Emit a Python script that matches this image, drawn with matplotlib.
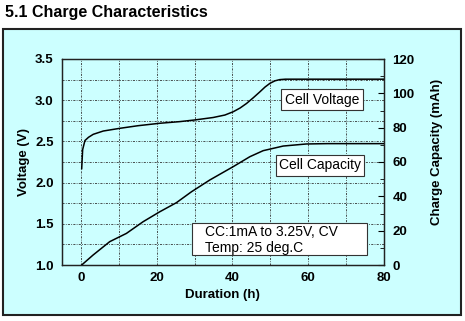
import matplotlib
matplotlib.use("Agg")
import matplotlib.pyplot as plt
from matplotlib.patches import Rectangle
from matplotlib.ticker import MultipleLocator

plt.rcParams['font.family'] = ['Liberation Sans', 'DejaVu Sans']

# cell voltage curve (hours, volts)
v_hours = [0.2, 0.45, 1.05, 2.0, 3.25, 5.9, 10.3, 15.0, 20.8, 26.1, 30.0, 34.9,
           38.0, 40.2, 42.0, 43.7, 45.5, 47.2, 48.6, 49.9, 51.2, 52.5, 54.0,
           60.0, 70.0, 80.0]
volts = [2.17, 2.40, 2.51, 2.55, 2.586, 2.626, 2.659, 2.69, 2.72, 2.74, 2.76, 2.79,
         2.82, 2.86, 2.905, 2.96, 3.03, 3.10, 3.16, 3.205, 3.235, 3.25, 3.255,
         3.255, 3.255, 3.255]

# charge capacity curve (hours, mAh)
cap_hours = [0.2, 3.2, 7.6, 12.0, 16.4, 20.8, 25.2, 29.2, 34.0, 40.2, 44.6,
             48.1, 53.4, 59.5, 65.0, 80.0]
capacity = [0.0, 5.8, 13.6, 18.4, 25.2, 31.0, 36.3, 42.7, 49.5, 57.3, 63.1,
            66.6, 69.3, 70.5, 70.7, 70.7]

x_ticks = [0, 20, 40, 60, 80]
v_ticks = [1.0, 1.5, 2.0, 2.5, 3.0, 3.5]
c_ticks = [0, 20, 40, 60, 80, 100, 120]

cyan = '#ccffff'
W, H = 465, 321
fig = plt.figure(figsize=(W / 100, H / 100), dpi=100)

# background panel
fig.patches.append(Rectangle((3 / W, 1 - 315 / H), 458 / W, 286 / H,
                             transform=fig.transFigure, facecolor=cyan,
                             edgecolor='#222222', linewidth=1.5, zorder=-1))
fig.text(5 / W, 1 - 12 / H, '5.1 Charge Characteristics', fontsize=11.5,
         fontweight='bold', va='center', ha='left')

ax = fig.add_axes([62 / W, 1 - 265 / H, 322 / W, 206 / H])
ax.set_facecolor(cyan)
ax.plot(v_hours, volts, color='black', linewidth=1.1, zorder=3)
ax.set_xlim(-5, 80)
ax.set_ylim(1.0, 3.5)
ax.set_xticks(x_ticks)
ax.set_yticks(v_ticks)
ax.set_yticklabels([f'{v:.1f}' for v in v_ticks])
ax.xaxis.set_minor_locator(MultipleLocator(10))
ax.yaxis.set_minor_locator(MultipleLocator(0.25))
ax.grid(which='both', color='#333333', linestyle=(0, (2.5, 1.5, 1, 1.5)),
        linewidth=0.6)
ax.tick_params(which='both', length=0)
ax.tick_params(axis='y', pad=6, labelsize=9.5)
ax.tick_params(axis='x', pad=5, labelsize=9.5)
for lab in ax.get_xticklabels() + ax.get_yticklabels():
    lab.set_fontweight('bold')
for sp in ax.spines.values():
    sp.set_color('#222222')
    sp.set_linewidth(0.9)
ax.set_xlabel('Duration (h)', fontsize=9.5, fontweight='bold')
ax.xaxis.set_label_coords(0.498, -0.117)
ax.set_ylabel('Voltage (V)', fontsize=9.5, fontweight='bold')
ax.yaxis.set_label_coords(-0.099, 0.5)

ax2 = ax.twinx()
ax2.plot(cap_hours, capacity, color='black', linewidth=1.1, zorder=3)
ax2.set_ylim(0, 120)
ax2.set_yticks(c_ticks)
ax2.yaxis.set_minor_locator(MultipleLocator(10))
ax2.tick_params(axis='y', which='major', direction='in', length=4, pad=6,
                labelsize=9.5)
ax2.tick_params(axis='y', which='minor', direction='in', length=3)
for lab in ax2.get_yticklabels():
    lab.set_fontweight('bold')
ax2.set_ylabel('Charge Capacity (mAh)', fontsize=9.5, fontweight='bold')
ax2.yaxis.set_label_coords(1.145, 0.55)
for sp in ax2.spines.values():
    sp.set_color('#222222')
    sp.set_linewidth(0.9)

box = dict(boxstyle='square,pad=0.25', facecolor='white', edgecolor='#333333',
           linewidth=0.8)
ax.text(63.6, 3.008, 'Cell Voltage', fontsize=10, ha='center', va='center',
        bbox=box, zorder=5)
ax.text(63.1, 2.208, 'Cell Capacity', fontsize=10, ha='center', va='center',
        bbox=box, zorder=5)

ax.add_patch(Rectangle((29.2, 1.121), 46.2, 0.392, facecolor='white',
                       edgecolor='#333333', linewidth=0.8, zorder=4))
ax.text(32.7, 1.303, 'CC:1mA to 3.25V, CV\nTemp: 25 deg.C', fontsize=10,
        ha='left', va='center', linespacing=1.2, zorder=5)

fig.savefig('out.png', dpi=100)
